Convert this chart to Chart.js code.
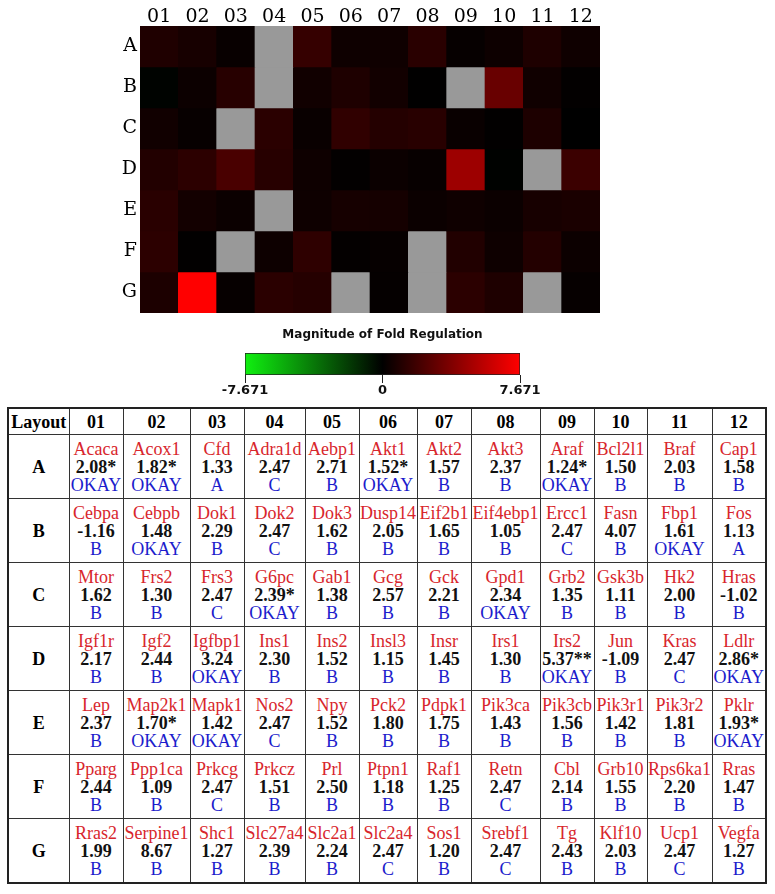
<!DOCTYPE html>
<html>
<head>
<meta charset="utf-8">
<script src="https://cdn.jsdelivr.net/npm/chart.js@4.4.1/dist/chart.umd.min.js"></script>
<style>
    body { margin: 0; background: #fff; width: 775px; height: 894px; position: relative; overflow: hidden; }
    #heatWrap { position: absolute; left: 100px; top: 0; width: 500px; height: 313px; }
    #barWrap { position: absolute; left: 200px; top: 322px; width: 360px; height: 78px; }
    #layoutTable {
        position: absolute; left: 7px; top: 407px; width: 758px;
        border-collapse: collapse; table-layout: fixed;
        font-family: "Liberation Serif", "Times New Roman", serif; font-size: 18px; line-height: 18px;
        border: 2px solid #222;
    }
    #layoutTable td, #layoutTable th { border: 1px solid #333; text-align: center; vertical-align: middle; padding: 0; white-space: nowrap; }
    #layoutTable th { font-weight: bold; height: 25px; }
    #layoutTable tr.data td { height: 63px; }
    .rowHead { font-weight: bold; }
    .gene { color: #d8262c; }
    .fold { color: #111; font-weight: bold; }
    .call { color: #1c1ccc; }
</style>
</head>
<body>
<div id="heatWrap"><canvas id="heatChart"></canvas></div>
<div id="barWrap"><canvas id="barChart"></canvas></div>
<table id="layoutTable"></table>

<script>
const colLabels = ["01", "02", "03", "04", "05", "06", "07", "08", "09", "10", "11", "12"];
const rowLabels = ["A", "B", "C", "D", "E", "F", "G"];

const genes = [
    ["Acaca", "Acox1", "Cfd", "Adra1d", "Aebp1", "Akt1", "Akt2", "Akt3", "Araf", "Bcl2l1", "Braf", "Cap1"],
    ["Cebpa", "Cebpb", "Dok1", "Dok2", "Dok3", "Dusp14", "Eif2b1", "Eif4ebp1", "Ercc1", "Fasn", "Fbp1", "Fos"],
    ["Mtor", "Frs2", "Frs3", "G6pc", "Gab1", "Gcg", "Gck", "Gpd1", "Grb2", "Gsk3b", "Hk2", "Hras"],
    ["Igf1r", "Igf2", "Igfbp1", "Ins1", "Ins2", "Insl3", "Insr", "Irs1", "Irs2", "Jun", "Kras", "Ldlr"],
    ["Lep", "Map2k1", "Mapk1", "Nos2", "Npy", "Pck2", "Pdpk1", "Pik3ca", "Pik3cb", "Pik3r1", "Pik3r2", "Pklr"],
    ["Pparg", "Ppp1ca", "Prkcg", "Prkcz", "Prl", "Ptpn1", "Raf1", "Retn", "Cbl", "Grb10", "Rps6ka1", "Rras"],
    ["Rras2", "Serpine1", "Shc1", "Slc27a4", "Slc2a1", "Slc2a4", "Sos1", "Srebf1", "Tg", "Klf10", "Ucp1", "Vegfa"]
];

const folds = [
    [2.08, 1.82, 1.33, 2.47, 2.71, 1.52, 1.57, 2.37, 1.24, 1.50, 2.03, 1.58],
    [-1.16, 1.48, 2.29, 2.47, 1.62, 2.05, 1.65, 1.05, 2.47, 4.07, 1.61, 1.13],
    [1.62, 1.30, 2.47, 2.39, 1.38, 2.57, 2.21, 2.34, 1.35, 1.11, 2.00, -1.02],
    [2.17, 2.44, 3.24, 2.30, 1.52, 1.15, 1.45, 1.30, 5.37, -1.09, 2.47, 2.86],
    [2.37, 1.70, 1.42, 2.47, 1.52, 1.80, 1.75, 1.43, 1.56, 1.42, 1.81, 1.93],
    [2.44, 1.09, 2.47, 1.51, 2.50, 1.18, 1.25, 2.47, 2.14, 1.55, 2.20, 1.47],
    [1.99, 8.67, 1.27, 2.39, 2.24, 2.47, 1.20, 2.47, 2.43, 2.03, 2.47, 1.27]
];

const marks = [
    ["*", "*", "", "", "", "*", "", "", "*", "", "", ""],
    ["", "", "", "", "", "", "", "", "", "", "", ""],
    ["", "", "", "*", "", "", "", "", "", "", "", ""],
    ["", "", "", "", "", "", "", "", "**", "", "", "*"],
    ["", "*", "", "", "", "", "", "", "", "", "", "*"],
    ["", "", "", "", "", "", "", "", "", "", "", ""],
    ["", "", "", "", "", "", "", "", "", "", "", ""]
];

const calls = [
    ["OKAY", "OKAY", "A", "C", "B", "OKAY", "B", "B", "OKAY", "B", "B", "B"],
    ["B", "OKAY", "B", "C", "B", "B", "B", "B", "C", "B", "OKAY", "A"],
    ["B", "B", "C", "OKAY", "B", "B", "B", "OKAY", "B", "B", "B", "B"],
    ["B", "B", "OKAY", "B", "B", "B", "B", "B", "OKAY", "B", "C", "OKAY"],
    ["B", "OKAY", "OKAY", "C", "B", "B", "B", "B", "B", "B", "B", "OKAY"],
    ["B", "B", "C", "B", "B", "B", "B", "C", "B", "B", "B", "B"],
    ["B", "B", "B", "B", "B", "C", "B", "C", "B", "B", "C", "B"]
];

const scaleTicks = [-7.671, 0, 7.671];
const MAX_FOLD = 7.671;

// fold regulation -> heat colour, gray for "C" calls
function heatColor(fold, call) {
    if (call === "C") return "#999999";
    let t = (Math.abs(fold) - 1) / (MAX_FOLD - 1);
    t = Math.pow(Math.max(0, Math.min(1, t)), 1.15);
    const v = Math.round(t * 255);
    return fold > 0 ? `rgb(${v},0,0)` : `rgb(0,${v},0)`;
}

const heatDatasets = rowLabels.map((row, i) => ({
    label: row,
    data: colLabels.map(() => [i, i + 1]),
    backgroundColor: colLabels.map((_, j) => heatColor(folds[i][j], calls[i][j])),
    borderWidth: 0,
    grouped: false,
    barPercentage: 1,
    categoryPercentage: 1
}));

new Chart(document.getElementById("heatChart").getContext("2d"), {
    type: "bar",
    data: { labels: colLabels, datasets: heatDatasets },
    options: {
        animation: false,
        responsive: true,
        maintainAspectRatio: false,
        layout: { padding: 0 },
        plugins: { legend: { display: false }, tooltip: { enabled: false } },
        scales: {
            x: {
                position: "top",
                grid: { display: false, drawTicks: false },
                border: { display: false },
                ticks: { color: "#000", font: { family: "DejaVu Serif", size: 19 }, padding: -2, maxRotation: 0 },
                afterFit: (scale) => { scale.height = 26; }
            },
            y: {
                type: "linear",
                min: 0,
                max: rowLabels.length,
                reverse: true,
                grid: { display: false, drawTicks: false },
                border: { display: false },
                afterBuildTicks: (scale) => {
                    scale.ticks = rowLabels.map((_, i) => ({ value: i + 0.5 }));
                },
                ticks: {
                    color: "#000",
                    font: { family: "DejaVu Serif", size: 19 },
                    padding: 3,
                    callback: (value) => rowLabels[Math.floor(value)]
                },
                afterFit: (scale) => {
                    scale.width = 40;
                    scale.paddingTop = 0;
                    scale.paddingBottom = 0;
                }
            }
        }
    }
});

new Chart(document.getElementById("barChart").getContext("2d"), {
    type: "bar",
    data: {
        labels: [""],
        datasets: [{
            data: [[scaleTicks[0], scaleTicks[2]]],
            backgroundColor: (ctx) => {
                const area = ctx.chart.chartArea;
                if (!area) return "#000";
                const g = ctx.chart.ctx.createLinearGradient(area.left, 0, area.right, 0);
                g.addColorStop(0, "#10f010");
                g.addColorStop(0.5, "#000000");
                g.addColorStop(1, "#ff0000");
                return g;
            },
            borderColor: "#222",
            borderWidth: 1,
            borderSkipped: false,
            barPercentage: 1,
            categoryPercentage: 1
        }]
    },
    options: {
        indexAxis: "y",
        animation: false,
        responsive: true,
        maintainAspectRatio: false,
        layout: { padding: { left: 45, right: 40 } },
        plugins: {
            legend: { display: false },
            tooltip: { enabled: false },
            title: {
                display: true,
                text: "Magnitude of Fold Regulation",
                color: "#111",
                font: { family: "DejaVu Sans", size: 12, weight: "bold" },
                padding: { top: 6, bottom: 10.6 }
            }
        },
        scales: {
            x: {
                type: "linear",
                min: scaleTicks[0],
                max: scaleTicks[2],
                grid: { drawOnChartArea: false, drawTicks: true, tickLength: 8, color: "#222" },
                border: { display: false },
                afterBuildTicks: (scale) => {
                    scale.ticks = scaleTicks.map(v => ({ value: v }));
                },
                ticks: {
                    color: "#111",
                    autoSkip: false,
                    maxRotation: 0,
                    padding: 0,
                    font: { family: "DejaVu Sans", size: 13, weight: "bold" },
                    callback: (value) => value === 0 ? "0" : value.toFixed(3)
                },
                afterFit: (scale) => { scale.height = 25; }
            },
            y: { display: false }
        }
    }
});

// layout table below the heat map
const colWidths = [61, 54, 67, 54, 61, 54, 58, 54, 69, 54, 53, 65, 54];
const table = document.getElementById("layoutTable");

const colgroup = document.createElement("colgroup");
colWidths.forEach(w => {
    const col = document.createElement("col");
    col.style.width = w + "px";
    colgroup.appendChild(col);
});
table.appendChild(colgroup);

const headRow = document.createElement("tr");
["Layout", ...colLabels].forEach(text => {
    const th = document.createElement("th");
    th.textContent = text;
    headRow.appendChild(th);
});
table.appendChild(headRow);

rowLabels.forEach((row, i) => {
    const tr = document.createElement("tr");
    tr.className = "data";
    const head = document.createElement("td");
    head.className = "rowHead";
    head.textContent = row;
    tr.appendChild(head);

    colLabels.forEach((_, j) => {
        const td = document.createElement("td");
        td.innerHTML =
            `<div class="gene">${genes[i][j]}</div>` +
            `<div class="fold">${folds[i][j].toFixed(2)}${marks[i][j]}</div>` +
            `<div class="call">${calls[i][j]}</div>`;
        tr.appendChild(td);
    });
    table.appendChild(tr);
});
</script>
</body>
</html>
